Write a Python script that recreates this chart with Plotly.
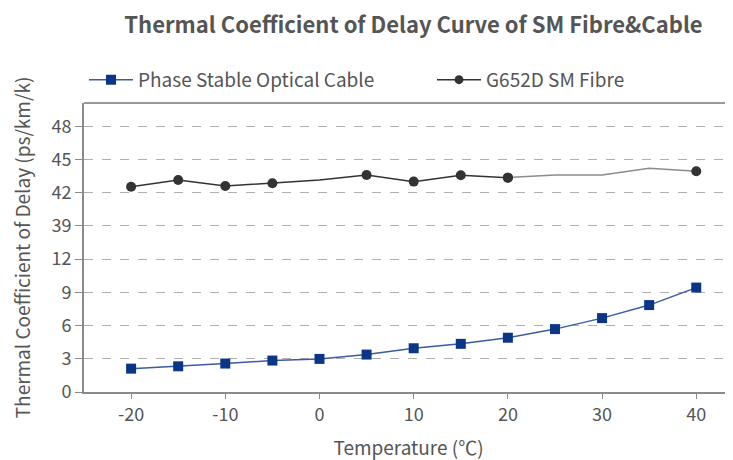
import plotly.graph_objects as go

# ---- data ----
temperatures = [-20, -15, -10, -5, 0, 5, 10, 15, 20, 25, 30, 35, 40]
cable_delay = [2.11, 2.32, 2.57, 2.84, 2.99, 3.38, 3.95, 4.35, 4.90, 5.68, 6.67, 7.85, 9.43]
fibre_delay = [42.54, 43.14, 42.60, 42.85, 43.15, 43.60, 43.00, 43.57, 43.36, 43.60, 43.60, 44.20, 43.93]
fibre_marked = [True, True, True, True, False, True, True, True, True, False, False, False, True]
x_ticks = [-20, -10, 0, 10, 20, 30, 40]
y_ticks = [0, 3, 6, 9, 12, 39, 42, 45, 48]

# broken y axis: values above the break are shifted down
BREAK_LOW, BREAK_HIGH = 12, 39
SHIFT = BREAK_HIGH - BREAK_LOW - 3


def ty(v):
    return v if v <= BREAK_LOW else v - SHIFT


FONT = "Noto Sans CJK SC"
TXT = "#555555"
AXIS = "#8a8a8a"
BLUE_M = "#0b3587"
BLUE_L = "#3a5aa5"
DARK = "#333333"

# the page body adds an 8px offset; size the figure to the visible area
W, H = 725, 452

fig = go.Figure()

fig.add_trace(go.Scatter(
    x=temperatures, y=[ty(v) for v in cable_delay],
    mode="lines+markers", name="Phase Stable Optical Cable",
    line=dict(color=BLUE_L, width=1.5),
    marker=dict(symbol="square", size=10, color=BLUE_M, line=dict(width=0), opacity=1),
    legendwidth=289,
))

split = temperatures.index(20)
sizes = [10 if m else 0 for m in fibre_marked]

# light grey tail of the fibre curve
fig.add_trace(go.Scatter(
    x=temperatures[split:], y=[ty(v) for v in fibre_delay[split:]],
    mode="lines+markers", showlegend=False,
    line=dict(color="#8c8c8c", width=1.5),
    marker=dict(symbol="circle", size=sizes[split:], color=DARK, line=dict(width=0), opacity=1),
    hoverinfo="skip",
))
# dark head of the fibre curve (legend entry)
fig.add_trace(go.Scatter(
    x=temperatures[:split + 1], y=[ty(v) for v in fibre_delay[:split + 1]],
    mode="lines+markers", name="G652D SM Fibre",
    line=dict(color=DARK, width=1.5),
    marker=dict(symbol="circle", size=sizes[:split + 1], color=DARK, line=dict(width=0), opacity=1),
))

fig.update_layout(
    width=W, height=H,
    margin=dict(l=76, r=0, t=95, b=68, autoexpand=False),
    paper_bgcolor="white", plot_bgcolor="white",
    font=dict(family=FONT, size=18, color=TXT),
    title=dict(text="<b>Thermal Coefficient of Delay Curve of SM Fibre&Cable</b>",
               x=405.5 / W, xref="container", xanchor="center",
               y=1 - 17 / H, yref="container", yanchor="middle",
               font=dict(family=FONT, size=22, color=TXT)),
    legend=dict(orientation="h", x=0.0, xanchor="left", y=1.08, yanchor="middle",
                font=dict(family=FONT, size=19, color=TXT),
                itemwidth=44,
                bgcolor="rgba(0,0,0,0)", traceorder="normal"),
    showlegend=True,
)

fig.update_xaxes(
    range=[-25, 43.9], tickvals=x_ticks, ticktext=[str(t) for t in x_ticks],
    showgrid=False, zeroline=False, automargin=False,
    showline=True, linecolor=AXIS, linewidth=2,
    ticks="outside", ticklen=5, tickcolor=AXIS, tickwidth=1,
    tickfont=dict(family=FONT, size=18, color=TXT),
    title=dict(text="Temperature (℃)", font=dict(family=FONT, size=19, color=TXT), standoff=17),
)
fig.update_yaxes(
    range=[0, 26.1], tickvals=[ty(v) for v in y_ticks], ticktext=[str(v) for v in y_ticks],
    showgrid=True, gridcolor="#b0b0b0", griddash="dash", gridwidth=1,
    zeroline=False, automargin=False,
    showline=True, linecolor=AXIS, linewidth=2,
    ticks="outside", ticklen=7, tickcolor=AXIS, tickwidth=1,
    tickfont=dict(family=FONT, size=18, color=TXT),
    title=dict(text="Thermal Coefficient of Delay (ps/km/k)",
               font=dict(family=FONT, size=19, color=TXT), standoff=20),
)

# top border of the plot area
fig.add_shape(type="line", xref="paper", yref="paper", x0=0, x1=1, y0=1, y1=1,
              line=dict(color="#999999", width=2))

fig.write_html("out.html")
